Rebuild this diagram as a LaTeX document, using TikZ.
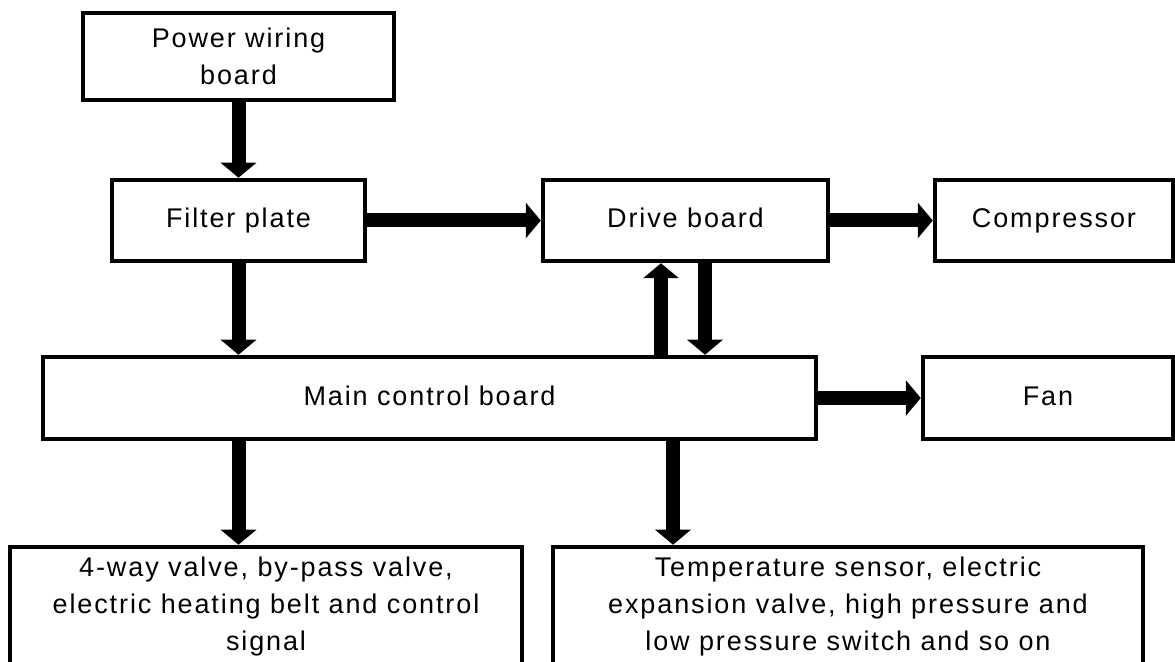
\documentclass[tikz,border=0pt]{standalone}
\usepackage{fontspec}
\setmainfont{Liberation Sans}[LetterSpace=7]
\usetikzlibrary{arrows.meta,positioning,calc}
\tikzset{
  blk/.style={draw,line width=2.25pt,align=center,inner sep=2pt},
  one/.style={blk,text height=0.72em,text depth=0pt},
  arr/.style={line width=7pt,-{Triangle[width=17.5pt,length=7.5pt]}},
}

\begin{document}
\begin{tikzpicture}[x=0.5pt,y=-0.5pt,font=\fontsize{13.5}{18.5}\selectfont]
  \useasboundingbox (0,0) rectangle (1175,662);
  \node[blk,minimum width=155.5pt,minimum height=43.5pt] (pwr) at (238.5,56.5) {Power wiring\\board};
  \node[one,minimum width=126.5pt,minimum height=40.5pt] (filt) at (238.5,220.5) {Filter plate};
  \node[one,minimum width=142.5pt,minimum height=40.5pt] (drv) at (685.5,220.5) {Drive board};
  \node[one,minimum width=119pt,minimum height=40.5pt] (comp) at (1054,220.5) {Compressor};
  \node[one,minimum width=386.5pt,minimum height=41pt] (mcb) at (429.5,398) {Main control board};
  \node[one,minimum width=125pt,minimum height=41pt] (fan) at (1048,398) {Fan};
  \node[blk,minimum width=256pt,minimum height=60pt] (valves) at (266,607)
    {4-way valve, by-pass valve,\\electric heating belt and control\\signal};
  \node[blk,minimum width=295pt,minimum height=60pt] (sensors) at (848,607)
    {Temperature sensor, electric\\expansion valve, high pressure and\\low pressure switch and so on};
  \coordinate (upx) at ($(drv.south)+(-24.5,0)$);
  \coordinate (dnx) at ($(drv.south)+(19.5,0)$);
  \coordinate (snx) at ($(mcb.south)+(243.5,0)$);
  \draw[arr] (pwr) -- (filt);
  \draw[arr] (filt) -- (drv);
  \draw[arr] (drv) -- (comp);
  \draw[arr] (filt.south) -- (filt.south |- mcb.north);
  \draw[arr] (upx |- mcb.north) -- (upx);
  \draw[arr] (dnx) -- (dnx |- mcb.north);
  \draw[arr] (mcb) -- (fan);
  \draw[arr] (filt.south |- mcb.south) -- (filt.south |- valves.north);
  \draw[arr] (snx) -- (snx |- sensors.north);
\end{tikzpicture}
\end{document}
